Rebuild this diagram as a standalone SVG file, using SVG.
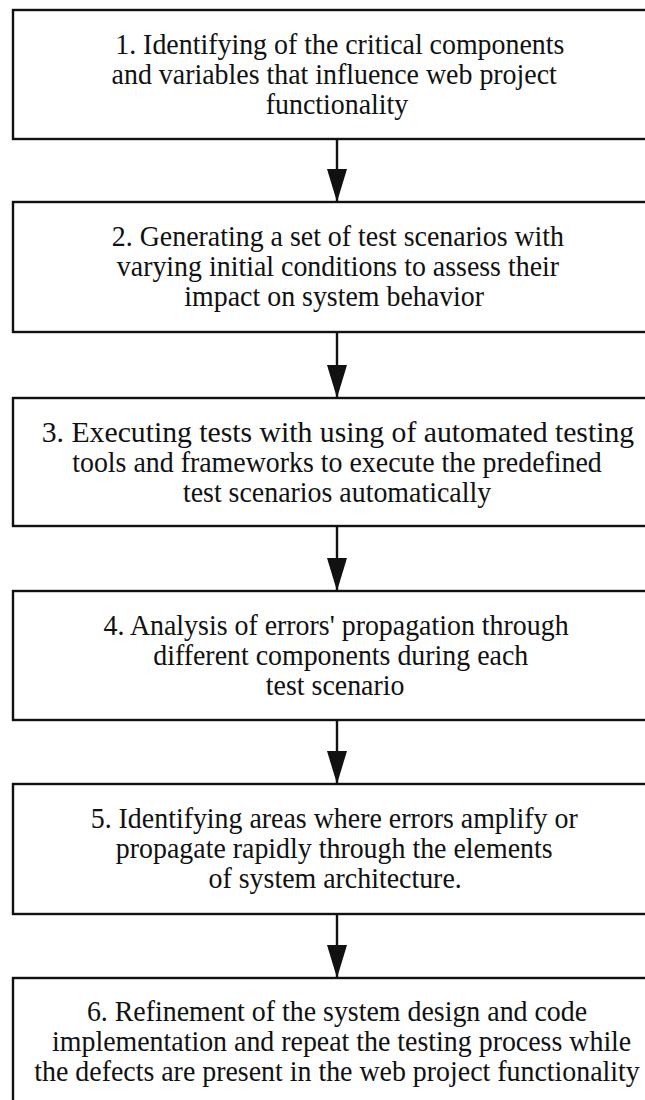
<svg xmlns="http://www.w3.org/2000/svg" width="645" height="1100" viewBox="0 0 645 1100">
<style>
.box{fill:#fff;stroke:#111;stroke-width:2.4}
.t{font-family:"Liberation Serif","Times New Roman",serif;font-size:30px;fill:#111;text-anchor:middle}
.c{stroke:#111;stroke-width:2.4;fill:none}
</style>
<defs>
<marker id="ah" markerUnits="userSpaceOnUse" viewBox="0 0 33 20" refX="33" refY="10" markerWidth="33" markerHeight="20" orient="auto">
<path d="M0,0 L33,10 L0,20 z" fill="#111"/>
</marker>
</defs>
<rect width="645" height="1100" fill="#fff"/>
<g id="connectors">
<line class="c" x1="337" y1="139" x2="337" y2="202" marker-end="url(#ah)"/>
<line class="c" x1="337" y1="332" x2="337" y2="398" marker-end="url(#ah)"/>
<line class="c" x1="337" y1="526" x2="337" y2="591" marker-end="url(#ah)"/>
<line class="c" x1="337" y1="720" x2="337" y2="784" marker-end="url(#ah)"/>
<line class="c" x1="337" y1="914" x2="337" y2="978" marker-end="url(#ah)"/>
</g>
<g id="node1">
<rect class="box" x="13" y="10" width="700" height="129"/>
<g transform="translate(23.6,0) scale(0.93,1)">
<text class="t" x="340" y="54">1. Identifying of the critical components</text>
<text class="t" x="334" y="84">and variables that influence web project</text>
<text class="t" x="337" y="114">functionality</text>
</g>
</g>
<g id="node2">
<rect class="box" x="13" y="202" width="700" height="130"/>
<g transform="translate(23.6,0) scale(0.93,1)">
<text class="t" x="338" y="246">2. Generating a set of test scenarios with</text>
<text class="t" x="338" y="276">varying initial conditions to assess their</text>
<text class="t" x="334" y="306">impact on system behavior</text>
</g>
</g>
<g id="node3">
<rect class="box" x="13" y="398" width="700" height="128"/>
<g transform="translate(23.6,0) scale(0.93,1)">
<text class="t" x="338" y="442" textLength="637" lengthAdjust="spacingAndGlyphs">3. Executing tests with using of automated testing</text>
<text class="t" x="337" y="472">tools and frameworks to execute the predefined</text>
<text class="t" x="337" y="502">test scenarios automatically</text>
</g>
</g>
<g id="node4">
<rect class="box" x="13" y="591" width="700" height="129"/>
<g transform="translate(23.6,0) scale(0.93,1)">
<text class="t" x="336" y="635">4. Analysis of errors' propagation through</text>
<text class="t" x="341" y="665">different components during each</text>
<text class="t" x="335" y="695">test scenario</text>
</g>
</g>
<g id="node5">
<rect class="box" x="13" y="784" width="700" height="130"/>
<g transform="translate(23.6,0) scale(0.93,1)">
<text class="t" x="334" y="828">5. Identifying areas where errors amplify or</text>
<text class="t" x="334" y="858">propagate rapidly through the elements</text>
<text class="t" x="335" y="888">of system architecture.</text>
</g>
</g>
<g id="node6">
<rect class="box" x="13" y="978" width="700" height="160"/>
<g transform="translate(23.6,0) scale(0.93,1)">
<text class="t" x="337" y="1021">6. Refinement of the system design and code</text>
<text class="t" x="342" y="1051">implementation and repeat the testing process while</text>
<text class="t" x="337" y="1081">the defects are present in the web project functionality</text>
</g>
</g>
</svg>
